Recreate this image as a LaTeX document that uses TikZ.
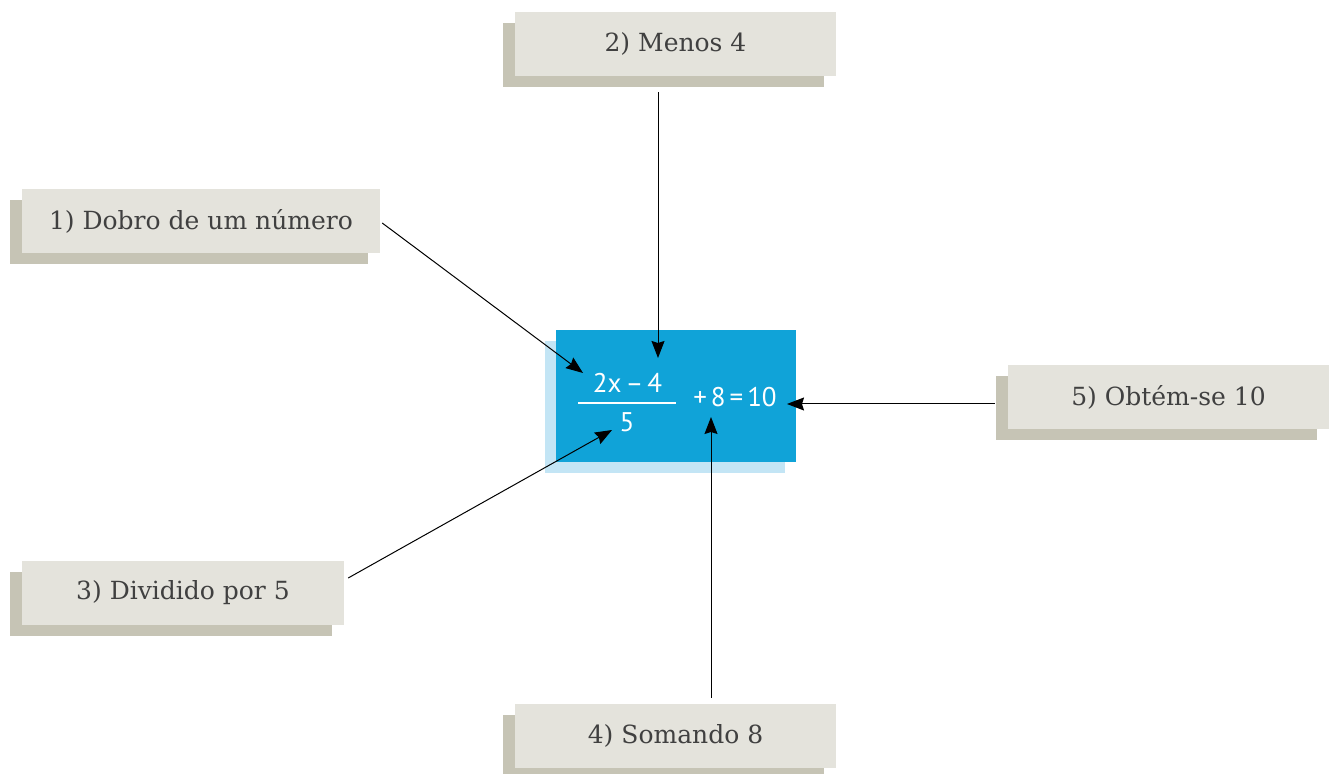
\documentclass[tikz,border=0pt]{standalone}
\usepackage{fontspec}
\setmainfont{DejaVu Serif}
\newfontfamily\eqfont{PT Sans}
\usetikzlibrary{shadows,arrows.meta}
\definecolor{boxfill}{HTML}{E4E3DC}
\definecolor{boxshadow}{HTML}{C6C4B5}
\definecolor{eqblue}{HTML}{10A3D8}
\definecolor{eqshadow}{HTML}{C3E5F5}
\definecolor{txt}{HTML}{404040}
\tikzset{
  labelbox/.style={rectangle, fill=boxfill, inner sep=0pt, minimum height=64pt,
    text=txt, font=\fontsize{25}{29}\selectfont,
    general shadow={fill=boxshadow, shadow xshift=-12pt, shadow yshift=-11pt}},
  eqbox/.style={rectangle, fill=eqblue, inner sep=0pt, minimum width=240pt, minimum height=132pt,
    general shadow={fill=eqshadow, shadow xshift=-11pt, shadow yshift=-11pt}},
  eqtext/.style={text=white, font=\eqfont\fontsize{27}{30}\selectfont, inner sep=0pt},
  arr/.style={-{Stealth[length=17pt,width=13pt,inset=2pt]}, line width=1pt, black}
}
\begin{document}
\begin{tikzpicture}[x=1pt,y=1pt]
\useasboundingbox (0,0) rectangle (1329,773);
% label boxes
\node[labelbox, minimum width=358pt] (b1) at (201,551.5) {1) Dobro de um número};
\node[labelbox, minimum width=321pt] (b2) at (675.5,729) {2) Menos 4};
\node[labelbox, minimum width=322pt] (b3) at (183,180) {3) Dividido por 5};
\node[labelbox, minimum width=321pt] (b4) at (675.5,37) {4) Somando 8};
\node[labelbox, minimum width=321pt] (b5) at (1168.5,376) {5) Obtém-se 10};
% equation box
\node[eqbox] (eq) at (676,377) {};
\node[eqtext] (num) at (627.5,390) {2x\hspace{4pt}–\hspace{4pt}4};
\node[eqtext] (den) at (627,351) {5};
\node[eqtext] (rest) at (735,376) {+\hspace{4pt}8\hspace{4pt}=\hspace{4pt}10};
\draw[white, line width=1.1pt] (578,370) -- (676,370);
% tips
\coordinate (t1) at (583,400);
\coordinate (t2) at (658,415);
\coordinate (t3) at (612,343);
\coordinate (t4) at (711,356);
\coordinate (t5) at (787,369);
% arrows
\draw[arr] ([shift={(2,-1.5)}]b1.east) -- (t1);
\draw[arr] ([shift={(-17.5,-16)}]b2.south) -- (t2);
\draw[arr] ([shift={(4,15)}]b3.east) -- (t3);
\draw[arr] ([shift={(35.5,6)}]b4.north) -- (t4);
\draw[arr] ([shift={(-13,-7)}]b5.west) -- (t5);
\end{tikzpicture}
\end{document}
